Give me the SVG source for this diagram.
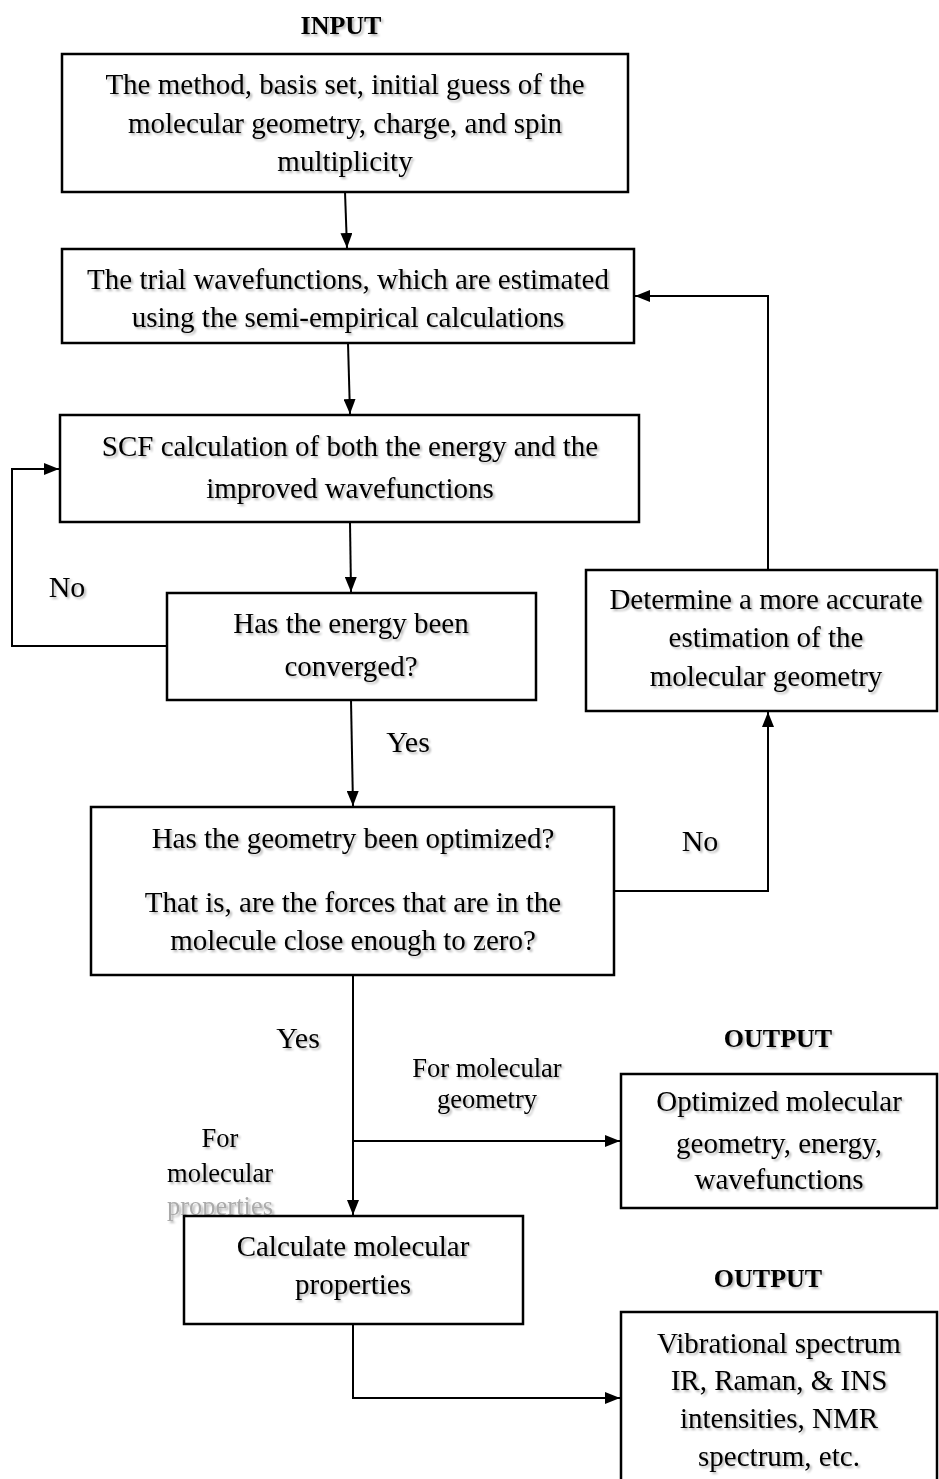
<svg xmlns="http://www.w3.org/2000/svg" width="939" height="1479" viewBox="0 0 939 1479">
<style>
.box{fill:#fff;stroke:#000;stroke-width:2.5}
.t{font-family:"Liberation Serif","Times New Roman",serif;font-size:29px;fill:#000;text-anchor:middle;filter:url(#sh)}
.b{font-weight:bold;font-size:26px}
.l{font-size:30px}
.s{font-size:26.5px}
.g{fill:#aaa}
.c{fill:none;stroke:#000;stroke-width:2}
</style>
<defs>
<filter id="sh" x="-10%" y="-30%" width="120%" height="160%">
<feGaussianBlur in="SourceAlpha" stdDeviation="1"/>
<feOffset dx="1.5" dy="1.5" result="o"/>
<feComponentTransfer><feFuncA type="linear" slope="0.3"/></feComponentTransfer>
<feMerge><feMergeNode/><feMergeNode in="SourceGraphic"/></feMerge>
</filter>
<marker id="a" markerWidth="15" markerHeight="12" refX="15" refY="6" orient="auto" markerUnits="userSpaceOnUse">
<path d="M0,0 L15,6 L0,12 Z" fill="#000"/>
</marker>
</defs>
<g id="connectors">
<path class="c" d="M345,192 L347,248" marker-end="url(#a)"/>
<path class="c" d="M348,343 L350,414" marker-end="url(#a)"/>
<path class="c" d="M350,522 L351,592" marker-end="url(#a)"/>
<path class="c" d="M167,646 L12,646 L12,469 L59,469" marker-end="url(#a)"/>
<path class="c" d="M351,700 L353,806" marker-end="url(#a)"/>
<path class="c" d="M614,891 L768,891 L768,712" marker-end="url(#a)"/>
<path class="c" d="M768,570 L768,296 L635,296" marker-end="url(#a)"/>
<path class="c" d="M353,975 L353,1215" marker-end="url(#a)"/>
<path class="c" d="M353,1141 L620,1141" marker-end="url(#a)"/>
<path class="c" d="M353,1324 L353,1398 L620,1398" marker-end="url(#a)"/>
</g>
<g id="labels">
<text class="t b" x="341" y="34">INPUT</text>
<text class="t l" x="67" y="597">No</text>
<text class="t l" x="408" y="752">Yes</text>
<text class="t l" x="700" y="851">No</text>
<text class="t l" x="298" y="1048">Yes</text>
<text class="t s" x="487" y="1077">For molecular</text>
<text class="t s" x="487" y="1108">geometry</text>
<text class="t b" x="778" y="1047">OUTPUT</text>
<text class="t s" x="220" y="1147">For</text>
<text class="t s" x="220" y="1182">molecular</text>
<text class="t s g" x="220" y="1215">properties</text>
<text class="t b" x="768" y="1287">OUTPUT</text>
</g>
<g id="n1">
<rect class="box" x="62" y="54" width="566" height="138"/>
<text class="t" x="345" y="94">The method, basis set, initial guess of the</text>
<text class="t" x="345" y="133">molecular geometry, charge, and spin</text>
<text class="t" x="345" y="171">multiplicity</text>
</g>
<g id="n2">
<rect class="box" x="62" y="249" width="572" height="94"/>
<text class="t" x="348" y="289">The trial wavefunctions, which are estimated</text>
<text class="t" x="348" y="327">using the semi-empirical calculations</text>
</g>
<g id="n3">
<rect class="box" x="60" y="415" width="579" height="107"/>
<text class="t" x="350" y="456">SCF calculation of both the energy and the</text>
<text class="t" x="350" y="498">improved wavefunctions</text>
</g>
<g id="n4">
<rect class="box" x="167" y="593" width="369" height="107"/>
<text class="t" x="351" y="633">Has the energy been</text>
<text class="t" x="351" y="676">converged?</text>
</g>
<g id="n5">
<rect class="box" x="586" y="570" width="351" height="141"/>
<text class="t" x="766" y="609">Determine a more accurate</text>
<text class="t" x="766" y="647">estimation of the</text>
<text class="t" x="766" y="686">molecular geometry</text>
</g>
<g id="n6">
<rect class="box" x="91" y="807" width="523" height="168"/>
<text class="t" x="353" y="848">Has the geometry been optimized?</text>
<text class="t" x="353" y="912">That is, are the forces that are in the</text>
<text class="t" x="353" y="950">molecule close enough to zero?</text>
</g>
<g id="n7">
<rect class="box" x="621" y="1074" width="316" height="134"/>
<text class="t" x="779" y="1111">Optimized molecular</text>
<text class="t" x="779" y="1153">geometry, energy,</text>
<text class="t" x="779" y="1189">wavefunctions</text>
</g>
<g id="n8">
<rect class="box" x="184" y="1216" width="339" height="108"/>
<text class="t" x="353" y="1256">Calculate molecular</text>
<text class="t" x="353" y="1294">properties</text>
</g>
<g id="n9">
<rect class="box" x="621" y="1312" width="316" height="180"/>
<text class="t" x="779" y="1353">Vibrational spectrum</text>
<text class="t" x="779" y="1390">IR, Raman, &amp; INS</text>
<text class="t" x="779" y="1428">intensities, NMR</text>
<text class="t" x="779" y="1466">spectrum, etc.</text>
</g>
</svg>
